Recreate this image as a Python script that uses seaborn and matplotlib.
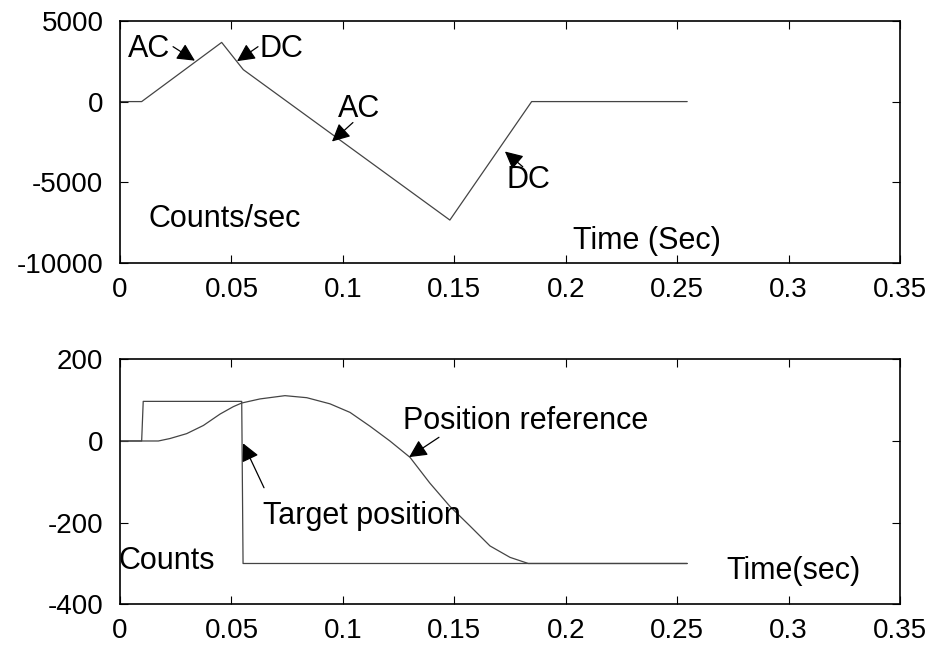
import matplotlib
matplotlib.use("Agg")
import matplotlib.pyplot as plt
import seaborn as sns
import pandas as pd

# Velocity profile (counts/sec) at its corner points
vel_time = [0.0, 0.0097, 0.0456, 0.0553, 0.148, 0.1847, 0.2545]
vel_counts = [0, 0, 3660, 1975, -7327, 0, 0]

# Position reference (counts)
pos_time = [0.0, 0.012, 0.0172, 0.0224, 0.0299, 0.0374, 0.0449, 0.0508, 0.0546,
            0.0628, 0.074, 0.0838, 0.0942, 0.1032, 0.1122, 0.1211, 0.1301, 0.139,
            0.148, 0.157, 0.166, 0.175, 0.1832, 0.2545]
pos_counts = [0, 0, 0, 6, 18, 38, 66, 84, 93, 103, 111, 106, 91, 70, 36, 0, -40,
              -103, -160, -208, -257, -285, -300, -300]

# Target position (counts)
target_time = [0.0, 0.0097, 0.0104, 0.0546, 0.0552, 0.2545]
target_counts = [0, 0, 97, 97, -300, -300]

x_ticks = [0, 0.05, 0.1, 0.15, 0.2, 0.25, 0.3, 0.35]
x_tick_labels = ["0", "0.05", "0.1", "0.15", "0.2", "0.25", "0.3", "0.35"]
vel_ticks = [5000, 0, -5000, -10000]
pos_ticks = [200, 0, -200, -400]

sns.set_theme(style="ticks")
plt.rcParams["font.family"] = ["Liberation Sans", "DejaVu Sans"]
plt.rcParams["axes.unicode_minus"] = False

fig = plt.figure(figsize=(9.32, 6.48), dpi=100)
ax1 = fig.add_axes([0.1288, 0.5937, 0.8369, 0.3743])
ax2 = fig.add_axes([0.1288, 0.0674, 0.8369, 0.3781])

line_kw = dict(color="#444444", linewidth=0.9, sort=False, estimator=None)

vel_df = pd.DataFrame({"t": vel_time, "v": vel_counts})
sns.lineplot(data=vel_df, x="t", y="v", ax=ax1, **line_kw)

pos_df = pd.DataFrame({"t": pos_time, "p": pos_counts})
tgt_df = pd.DataFrame({"t": target_time, "p": target_counts})
sns.lineplot(data=tgt_df, x="t", y="p", ax=ax2, **line_kw)
sns.lineplot(data=pos_df, x="t", y="p", ax=ax2, **line_kw)

for ax, yt, ylim in ((ax1, vel_ticks, (-10000, 5000)), (ax2, pos_ticks, (-400, 200))):
    ax.set_xlim(0, 0.35)
    ax.set_ylim(*ylim)
    ax.set_xticks(x_ticks)
    ax.set_xticklabels(x_tick_labels)
    ax.set_yticks(yt)
    ax.set_yticklabels([str(v) for v in yt])
    ax.set_xlabel("")
    ax.set_ylabel("")
    for s in ax.spines.values():
        s.set_visible(True)
        s.set_linewidth(1.2)
        s.set_color("black")
    ax.tick_params(direction="in", top=True, right=True, length=5.5, width=0.8,
                   labelsize=20, colors="black")
    ax.tick_params(axis="y", pad=12)
    ax.tick_params(axis="x", pad=10)

txt_kw = dict(fontsize=22, ha="left", va="baseline", color="black")
arrow_kw = dict(arrowstyle="-|>,head_length=0.9,head_width=0.45", color="black",
                lw=0.9, shrinkA=0, shrinkB=0)

# Top panel labels and arrows
ax1.text(0.0036, 2778, "AC", **txt_kw)
ax1.annotate("", xy=(0.0336, 2531), xytext=(0.0238, 3395), arrowprops=arrow_kw)
ax1.text(0.0628, 2778, "DC", **txt_kw)
ax1.annotate("", xy=(0.0525, 2500), xytext=(0.0619, 3395), arrowprops=arrow_kw)
ax1.text(0.0978, -926, "AC", **txt_kw)
ax1.annotate("", xy=(0.0951, -2469), xytext=(0.1045, -1296), arrowprops=arrow_kw)
ax1.text(0.1736, -5370, "DC", **txt_kw)
ax1.annotate("", xy=(0.1727, -3087), xytext=(0.1807, -4031), arrowprops=arrow_kw)
ax1.text(0.0126, -7778, "Counts/sec", **txt_kw)
ax1.text(0.2032, -9136, "Time (Sec)", **txt_kw)

# Bottom panel labels and arrows
ax2.text(0.127, 30, "Position reference", **txt_kw)
ax2.annotate("", xy=(0.1297, -39.5), xytext=(0.1431, 9), arrowprops=arrow_kw)
ax2.text(0.0642, -204, "Target position", **txt_kw)
ax2.annotate("", xy=(0.0552, -5.6), xytext=(0.0646, -114.5), arrowprops=arrow_kw)
ax2.text(-0.0009, -313, "Counts", clip_on=False, **txt_kw)
ax2.text(0.2723, -337, "Time(sec)", **txt_kw)

fig.savefig("out.png", dpi=100, facecolor="white")
